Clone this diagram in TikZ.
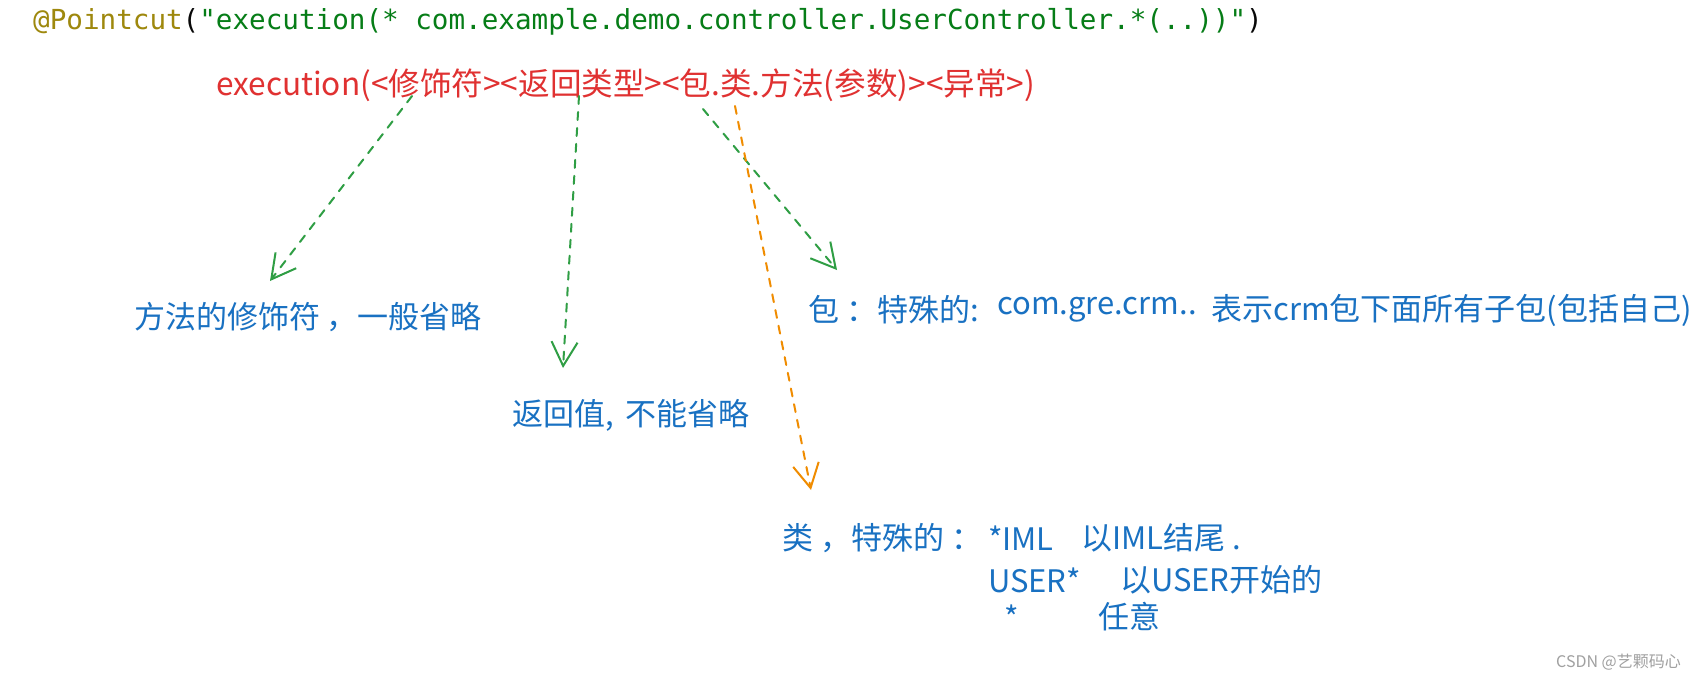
\documentclass[tikz,border=0pt]{standalone}
\usepackage{fontspec}
\setmainfont{Noto Sans CJK SC}
\newfontfamily\cjkfont{Noto Sans CJK SC}
\newfontfamily\monofont{DejaVu Sans Mono}
\usetikzlibrary{arrows.meta}
\definecolor{exred}{HTML}{E03131}
\definecolor{exblue}{HTML}{1971C2}
\definecolor{exgreen}{HTML}{2F9E44}
\definecolor{exorange}{HTML}{F08C00}
\definecolor{annocol}{HTML}{9E880D}
\definecolor{strgreen}{HTML}{067D17}
\definecolor{codeblack}{HTML}{080808}
\definecolor{wmgrey}{HTML}{A0A0A0}
\tikzset{
  txt/.style={inner sep=0pt, anchor=west},
  codetxt/.style={txt, font=\monofont\fontsize{27.6}{33}\selectfont},
  redtxt/.style={txt, text=exred, font=\cjkfont\fontsize{31.6}{38}\selectfont},
  bluetxt/.style={txt, text=exblue, font=\cjkfont\fontsize{31}{37}\selectfont},
  ptr/.style={line width=2pt, line cap=round, dash pattern=on 8pt off 8pt,
    -{Straight Barb[length=24pt,width=26pt,line width=2pt]}},
  greenptr/.style={ptr, draw=exgreen},
  orangeptr/.style={ptr, draw=exorange},
}
\begin{document}
\begin{tikzpicture}[x=1pt,y=-1pt]
\useasboundingbox[fill=white] (0,0) rectangle (1708,681);
% code line
\node[codetxt] (code) at (33,22) {\textcolor{annocol}{@Pointcut}\textcolor{codeblack}{(}\textcolor{strgreen}{"execution(* com.example.demo.controller.UserController.*(..))"}\textcolor{codeblack}{)}};
% red template
\node[redtxt] (tmpl) at (216,85) {execution(<修饰符><返回类型><包.类.方法(参数)><异常>)};
% blue annotations
\node[bluetxt] (mod) at (134,317) {方法的修饰符\hspace{6pt}，一般省略};
\node[bluetxt] (ret) at (512,415) {返回值,\hspace{12pt}不能省略};
\node[bluetxt] (pkg) at (808,310) {包 ：特殊的:};
\node[bluetxt] (pkgex) at (997,310) {com.gre.crm..};
\node[bluetxt] (pkgdesc) at (1211,310) {表示crm包下面所有子包(包括自己)};
\node[bluetxt] (cls) at (782,538) {类 ，特殊的 ：};
\node[bluetxt] (clsa) at (988,538) {*IML};
\node[bluetxt] (clsad) at (1081,538) {以IML结尾 .};
\node[bluetxt] (clsb) at (988,580) {USER*};
\node[bluetxt] (clsbd) at (1120,580) {以USER开始的};
\node[bluetxt] (clsc) at (1004,617) {*};
\node[bluetxt] (clscd) at (1098,617) {任意};
% watermark
\node[txt, text=wmgrey, font=\cjkfont\fontsize{16}{19}\selectfont] (wm) at (1556,662) {CSDN @艺颗码心};
% connector ends
\coordinate (s1) at (412,96);
\coordinate (e1) at (270,281);
\coordinate (s2) at (579,96);
\coordinate (e2) at (563,368);
\coordinate (s3) at (703,109);
\coordinate (e3) at (837,270);
\coordinate (s4) at (735,106);
\coordinate (e4) at (811,490);
\draw[greenptr] (s1) -- (e1);
\draw[greenptr] (s2) -- (e2);
\draw[greenptr] (s3) -- (e3);
\draw[orangeptr] (s4) -- (e4);
\end{tikzpicture}
\end{document}
